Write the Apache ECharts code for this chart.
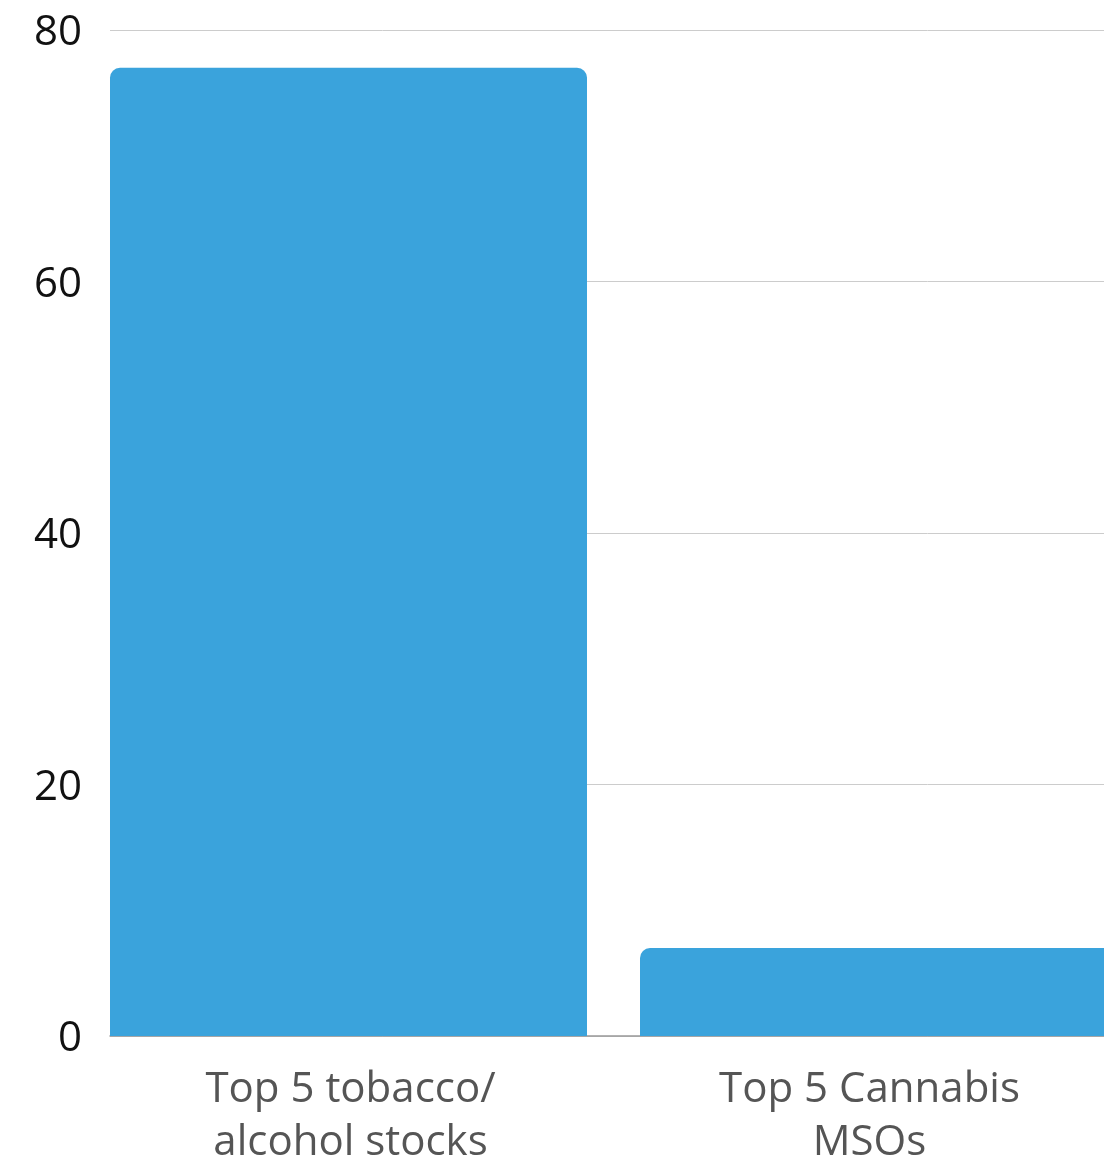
<!DOCTYPE html>
<html>
<head>
<meta charset="utf-8">
<script src="https://cdn.jsdelivr.net/npm/echarts@6/dist/echarts.min.js"></script>
<style>
html,body{margin:0;padding:0;background:#fff;overflow:hidden;width:1104px;height:1163px;}
#chart{width:1200px;height:1163px;}
</style>
</head>
<body>
<div id="chart"></div>
<script>
const categories = ['Top 5 tobacco/\nalcohol stocks', 'Top 5 Cannabis\nMSOs'];
const values = [77, 7];
const yTicks = [0, 20, 40, 60, 80];

const chart = echarts.init(document.getElementById('chart'), null, {renderer: 'canvas'});
const FONT = '"Open Sans", "Noto Sans", sans-serif';
chart.setOption({
  animation: false,
  backgroundColor: '#ffffff',
  grid: [
    {left: 83.5, top: 30, width: 1060, bottom: 127, containLabel: false, outerBoundsMode: 'none'},
    {left: 110, top: 30, right: 0, bottom: 127, containLabel: false, outerBoundsMode: 'none'}
  ],
  xAxis: [
    {
      type: 'category', gridIndex: 0, data: categories,
      axisLine: {show: false},
      axisTick: {show: false},
      axisLabel: {
        interval: 0,
        margin: 28, fontFamily: FONT, fontSize: 42, color: '#555555', lineHeight: 53,
        formatter: function (v, i) {
          const tag = i === 1 ? 'b' : 'a';
          return v.split('\n').map(s => '{' + tag + '|' + s + '}').join('\n');
        },
        rich: {
          a: {fontFamily: FONT, fontSize: 42, color: '#555555', lineHeight: 53, padding: [0, 0, 0, 4]},
          b: {fontFamily: FONT, fontSize: 42, color: '#555555', lineHeight: 53, padding: [0, 18, 0, 0]}
        }
      }
    },
    {
      type: 'category', gridIndex: 1, data: categories,
      axisLine: {show: true, lineStyle: {color: '#999999', width: 1.5}},
      axisTick: {show: false},
      axisLabel: {show: false}
    }
  ],
  yAxis: [
    {
      type: 'value', gridIndex: 0, min: 0, max: 80, interval: 20,
      show: false, splitLine: {show: false}
    },
    {
      type: 'value', gridIndex: 1, min: 0, max: 80, interval: 20,
      axisLine: {show: false}, axisTick: {show: false},
      axisLabel: {margin: 28, fontFamily: FONT, fontSize: 42, color: '#111111',
        formatter: function (v) { return yTicks.indexOf(v) >= 0 ? '{v|' + v + '}' : ''; },
        rich: {v: {fontFamily: FONT, fontSize: 42, color: '#111111', padding: [7, 0, 0, 0]}}
      },
      splitLine: {show: true, lineStyle: {color: '#cccccc', width: 1}}
    }
  ],
  series: [{
    type: 'bar', xAxisIndex: 0, yAxisIndex: 0, data: values,
    barWidth: 477, z: 3,
    itemStyle: {color: '#3aa3dc', borderRadius: [10, 10, 0, 0]}
  }]
});
</script>
</body>
</html>
